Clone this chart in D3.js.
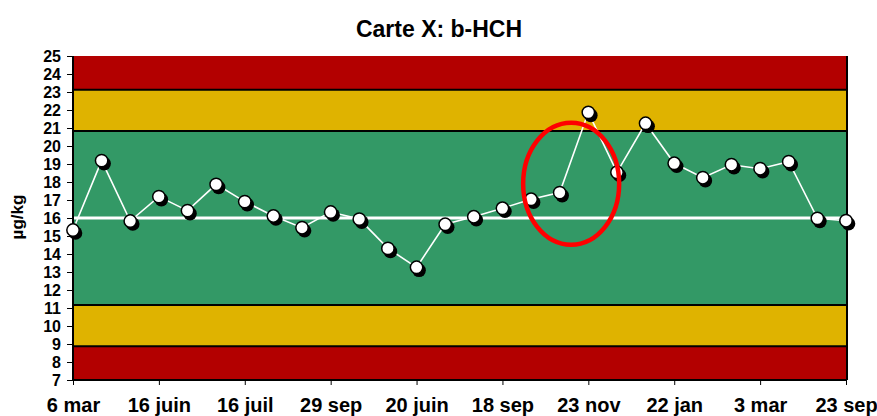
<!DOCTYPE html>
<html>
<head>
<meta charset="utf-8">
<script src="https://cdn.jsdelivr.net/npm/d3@7"></script>
<style>
  html, body { margin: 0; padding: 0; background: #fff; }
  svg { display: block; font-family: "Liberation Sans", Arial, sans-serif; }
</style>
</head>
<body>
<svg id="chart" width="877" height="416"></svg>
<script>
// ---- data ----
const values = [15.33, 19.19, 15.83, 17.19, 16.41, 17.87, 16.91, 16.11, 15.46, 16.33,
                15.94, 14.31, 13.26, 15.65, 16.07, 16.54, 17.04, 17.41, 21.87, 18.54,
                21.26, 19.04, 18.24, 18.96, 18.74, 19.13, 15.98, 15.85];
const tickLabels = ["6 mar", "16 juin", "16 juil", "29 sep", "20 juin", "18 sep", "23 nov", "22 jan", "3 mar", "23 sep"];
const tickIndexes = [0, 3, 6, 9, 12, 15, 18, 21, 24, 27];
const centerLine = 16;
const warningLimits = [11.17, 20.83];
const controlLimits = [8.87, 23.12];
const yDomain = [7, 25];
const yTicks = d3.range(7, 26, 1);
const title = "Carte X: b-HCH";
const yLabel = "µg/kg";
const highlightCenter = [17.4, 17.9]; // [index, value] of the circled jump

// ---- layout ----
const svg = d3.select("#chart");
const mLeft = 73, mRight = 847, mTop = 56, mBottom = 380;

const x = d3.scaleLinear().domain([0, values.length - 1]).range([mLeft, mRight - 1]);
const y = d3.scaleLinear().domain(yDomain).range([mBottom, mTop]);

const RED = "#B30000", YELLOW = "#DFB300", GREEN = "#339966";

// bands
const bands = [
  [controlLimits[1], yDomain[1], RED],
  [warningLimits[1], controlLimits[1], YELLOW],
  [warningLimits[0], warningLimits[1], GREEN],
  [controlLimits[0], warningLimits[0], YELLOW],
  [yDomain[0], controlLimits[0], RED]
];
svg.append("g").selectAll("rect").data(bands).join("rect")
  .attr("x", mLeft).attr("width", mRight - mLeft)
  .attr("y", d => y(d[1])).attr("height", d => y(d[0]) - y(d[1]))
  .attr("fill", d => d[2]);

// limit lines
svg.append("g").selectAll("line").data([...warningLimits, ...controlLimits]).join("line")
  .attr("x1", mLeft).attr("x2", mRight)
  .attr("y1", d => y(d)).attr("y2", d => y(d))
  .attr("stroke", "#000").attr("stroke-width", 2);

// center line
svg.append("line")
  .attr("x1", mLeft).attr("x2", mRight)
  .attr("y1", y(centerLine)).attr("y2", y(centerLine))
  .attr("stroke", "#fff").attr("stroke-width", 3);

// right border
svg.append("line")
  .attr("x1", mRight).attr("x2", mRight).attr("y1", mTop).attr("y2", mBottom)
  .attr("stroke", "#000").attr("stroke-width", 2);

// y axis
const yAxis = d3.axisLeft(y).tickValues(yTicks).tickSize(6).tickFormat(d3.format("d"));
const gy = svg.append("g").attr("transform", `translate(${mLeft},0)`).call(yAxis);
gy.select(".domain").attr("stroke", "#000").attr("stroke-width", 2).attr("d", `M0,${mTop}V${mBottom}`);
gy.selectAll(".tick line").attr("stroke", "#000").attr("stroke-width", 1);
gy.selectAll(".tick text")
  .attr("x", -12).attr("dy", "0.36em")
  .attr("font-size", 16).attr("font-weight", "bold").attr("fill", "#000")
  .attr("font-family", "'Liberation Sans', Arial, sans-serif");

// x axis
const xAxis = d3.axisBottom(x).tickValues(tickIndexes).tickSize(5)
  .tickFormat((d, i) => tickLabels[i]);
const gx = svg.append("g").attr("transform", `translate(0,${mBottom})`).call(xAxis);
gx.select(".domain").attr("stroke", "#000").attr("stroke-width", 2).attr("d", `M${mLeft},0H${mRight}`);
gx.selectAll(".tick line").attr("stroke", "#000").attr("stroke-width", 1);
gx.selectAll(".tick text")
  .attr("y", 32).attr("dy", 0)
  .attr("font-size", 20).attr("font-weight", "bold").attr("fill", "#000")
  .attr("font-family", "'Liberation Sans', Arial, sans-serif");

// data line
const line = d3.line().x((d, i) => x(i)).y(d => y(d));
svg.append("path").datum(values)
  .attr("d", line).attr("fill", "none")
  .attr("stroke", "#fff").attr("stroke-width", 1.6);

// markers with shadow
const pts = svg.append("g");
pts.selectAll("circle.sh").data(values).join("circle")
  .attr("class", "sh")
  .attr("cx", (d, i) => x(i) + 2.5).attr("cy", d => y(d) + 3)
  .attr("r", 6.8).attr("fill", "#000");
pts.selectAll("circle.pt").data(values).join("circle")
  .attr("class", "pt")
  .attr("cx", (d, i) => x(i)).attr("cy", d => y(d))
  .attr("r", 6.2).attr("fill", "#fff").attr("stroke", "#000").attr("stroke-width", 1.5);

// highlight ellipse around the jump
svg.append("ellipse")
  .attr("cx", x(highlightCenter[0])).attr("cy", y(highlightCenter[1]))
  .attr("rx", 48).attr("ry", 61)
  .attr("fill", "none").attr("stroke", "#FF0000").attr("stroke-width", 4.5);

// title
svg.append("text")
  .attr("x", 439).attr("y", 37).attr("text-anchor", "middle")
  .attr("font-size", 23).attr("font-weight", "bold").attr("fill", "#000")
  .text(title);

// y label
svg.append("text")
  .attr("transform", `translate(23,217) rotate(-90)`)
  .attr("text-anchor", "middle")
  .attr("font-size", 17).attr("font-weight", "bold").attr("fill", "#000")
  .text(yLabel);
</script>
</body>
</html>
